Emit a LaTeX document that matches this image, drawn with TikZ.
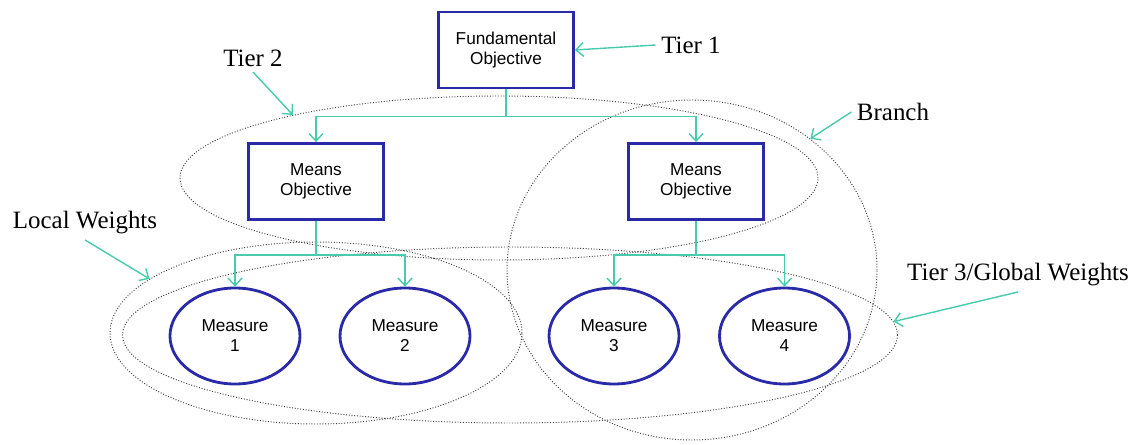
\documentclass[tikz,border=0pt]{standalone}
\usepackage{fontspec}
\setmainfont{Liberation Serif}
\setsansfont{Liberation Sans}
\usepackage{xcolor}
\usetikzlibrary{shapes.geometric, arrows.meta, positioning, calc}
\definecolor{boxblue}{RGB}{42, 42, 168}
\definecolor{linkteal}{RGB}{72, 202, 172}
\tikzstyle{objective} = [rectangle, minimum width=2.7cm, minimum height=1.52cm, align=center, draw=boxblue, line width=1.6pt, fill=white, font=\sffamily\fontsize{9.8}{11.3}\selectfont]
\tikzstyle{measure} = [ellipse, minimum width=2.6cm, minimum height=1.92cm, align=center, draw=boxblue, line width=1.6pt, fill=white, font=\sffamily\fontsize{9.8}{11.3}\selectfont]
\tikzstyle{group} = [ellipse, draw=black!75, densely dotted, line width=0.55pt, inner sep=0pt]
\tikzstyle{tag} = [inner sep=3pt, font=\fontsize{14.2}{17}\selectfont]
\tikzstyle{link} = [draw=linkteal, line width=0.8pt]
\tikzstyle{arrow} = [link, -{Straight Barb[length=1.5mm, width=2.8mm]}]

\begin{document}
\begin{tikzpicture}[node distance=2cm]
\useasboundingbox (0,0) rectangle (22.76,-8.9);

% Grouping ellipses
\node (tiertwo) [group, minimum width=12.76cm, minimum height=3.28cm] at (9.98,-3.56) {};
\node (branch) [group, minimum width=7.4cm, minimum height=6.8cm] at (13.84,-5.4) {};
\node (local) [group, minimum width=8.24cm, minimum height=3.64cm] at (6.32,-6.66) {};
\node (global) [group, minimum width=15.5cm, minimum height=3.52cm] at (10.2,-6.7) {};

% Objectives
\node (fund) [objective] at (10.12,-1.0) {Fundamental\\Objective};
\node (meansl) [objective, below of=fund, xshift=-3.8cm, yshift=-0.63cm] {Means\\Objective};
\node (meansr) [objective, right of=meansl, xshift=5.6cm] {Means\\Objective};

% Measures
\node (m1) [measure, below of=meansl, xshift=-1.62cm, yshift=-1.09cm] {Measure\\1};
\node (m2) [measure, right of=m1, xshift=1.4cm] {Measure\\2};
\node (m3) [measure, below of=meansr, xshift=-1.64cm, yshift=-1.09cm] {Measure\\3};
\node (m4) [measure, right of=m3, xshift=1.41cm] {Measure\\4};

% Labels
\node (tierone) [tag] at (13.82,-0.9) {Tier 1};
\node (tiertwolbl) [tag] at (5.06,-1.16) {Tier 2};
\node (branchlbl) [tag] at (17.86,-2.24) {Branch};
\node (locallbl) [tag] at (1.7,-4.46) {Local Weights};
\node (globallbl) [tag] at (20.36,-5.5) {Tier 3/Global Weights};

% Hierarchy links
\draw [arrow] (fund.south) -- ++(0,-0.54) -| (meansl.north);
\draw [arrow] (fund.south) -- ++(0,-0.54) -| (meansr.north);
\draw [arrow] (meansl.south) -- ++(0,-0.68) -| (m1.north);
\draw [arrow] (meansl.south) -- ++(0,-0.68) -| (m2.north);
\draw [arrow] (meansr.south) -- ++(0,-0.68) -| (m3.north);
\draw [arrow] (meansr.south) -- ++(0,-0.68) -| (m4.north);

% Label arrows
\draw [arrow] (tierone.west) -- (fund.east);
\draw [arrow] (tiertwolbl.south) -- (tiertwo.163.5);
\draw [arrow] (branchlbl.west) -- (branch.48);
\draw [arrow] (locallbl.south) -- (local.162.8);
\draw [arrow] (globallbl.south) -- (global.2.5);

\end{tikzpicture}
\end{document}
